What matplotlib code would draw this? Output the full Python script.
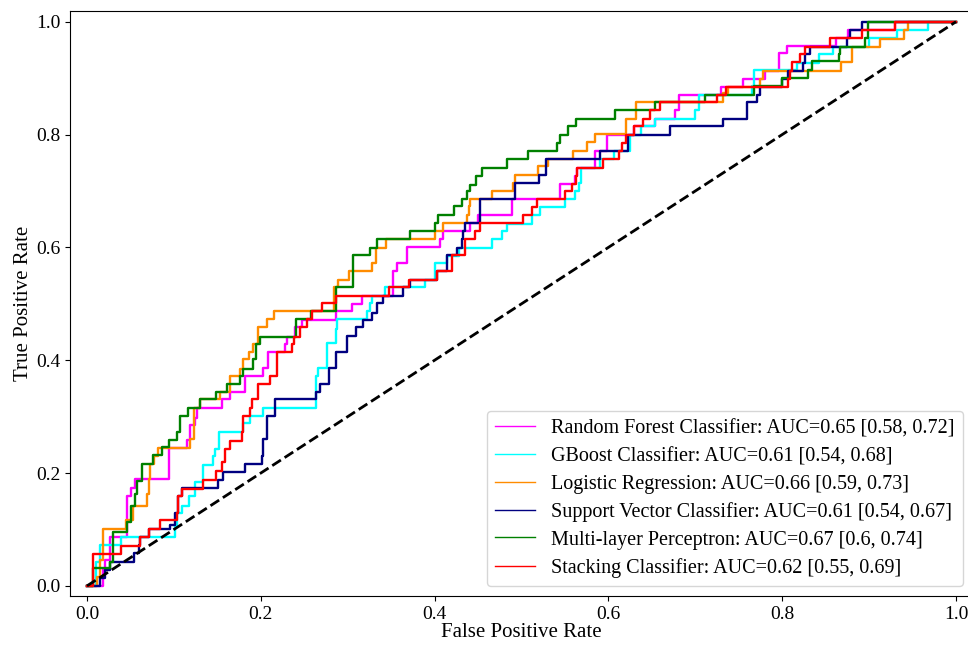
import matplotlib
matplotlib.use('Agg')
import matplotlib.pyplot as plt

# ROC curve vertices (fpr, tpr) for each model, one entry per threshold step
rf_fpr = [0, 0.018, 0.021, 0.027, 0.046, 0.051, 0.055, 0.094, 0.115, 0.119, 0.124, 0.127,
          0.155, 0.164, 0.182, 0.203, 0.208, 0.228, 0.230, 0.239, 0.247, 0.287, 0.305, 0.316,
          0.352, 0.357, 0.368, 0.406, 0.410, 0.441, 0.450, 0.489, 0.544, 0.562, 0.564, 0.584,
          0.598, 0.629, 0.654, 0.677, 0.681, 0.729, 0.755, 0.780, 0.796, 0.805, 0.862, 0.876,
          0.930, 1.0]
rf_tpr = [0, 0.030, 0.045, 0.086, 0.160, 0.173, 0.189, 0.245, 0.259, 0.285, 0.298, 0.316,
          0.331, 0.344, 0.372, 0.387, 0.415, 0.428, 0.442, 0.458, 0.471, 0.487, 0.500, 0.514,
          0.558, 0.573, 0.601, 0.614, 0.629, 0.644, 0.657, 0.686, 0.713, 0.727, 0.741, 0.770,
          0.800, 0.815, 0.828, 0.843, 0.871, 0.884, 0.898, 0.912, 0.945, 0.957, 0.971, 0.986,
          1.0, 1.0]

gb_fpr = [0, 0.010, 0.015, 0.039, 0.101, 0.103, 0.109, 0.117, 0.124, 0.134, 0.145, 0.147,
          0.152, 0.180, 0.188, 0.203, 0.263, 0.266, 0.276, 0.286, 0.288, 0.322, 0.326, 0.328,
          0.343, 0.389, 0.401, 0.414, 0.428, 0.466, 0.477, 0.483, 0.512, 0.521, 0.550, 0.562,
          0.566, 0.568, 0.590, 0.606, 0.625, 0.638, 0.654, 0.700, 0.704, 0.765, 0.767, 0.817,
          0.842, 0.859, 0.900, 0.932, 0.968, 1.0]
gb_tpr = [0, 0.043, 0.072, 0.087, 0.107, 0.129, 0.141, 0.159, 0.185, 0.215, 0.231, 0.243,
          0.272, 0.288, 0.301, 0.316, 0.372, 0.387, 0.431, 0.456, 0.473, 0.487, 0.502, 0.514,
          0.530, 0.543, 0.573, 0.585, 0.599, 0.615, 0.629, 0.641, 0.658, 0.672, 0.685, 0.700,
          0.714, 0.741, 0.756, 0.770, 0.800, 0.815, 0.828, 0.843, 0.871, 0.886, 0.914, 0.927,
          0.942, 0.956, 0.971, 0.986, 1.0, 1.0]

lr_fpr = [0, 0.012, 0.015, 0.018, 0.045, 0.053, 0.069, 0.071, 0.073, 0.077, 0.082, 0.119,
          0.123, 0.130, 0.153, 0.164, 0.176, 0.180, 0.186, 0.191, 0.197, 0.207, 0.215, 0.284,
          0.289, 0.301, 0.328, 0.332, 0.344, 0.401, 0.410, 0.437, 0.439, 0.441, 0.466, 0.490,
          0.493, 0.519, 0.531, 0.559, 0.575, 0.585, 0.620, 0.632, 0.732, 0.738, 0.775, 0.778,
          0.868, 0.880, 0.913, 0.940, 0.945, 1.0]
lr_tpr = [0, 0.015, 0.045, 0.101, 0.116, 0.142, 0.163, 0.189, 0.216, 0.231, 0.245, 0.260,
          0.316, 0.331, 0.344, 0.372, 0.385, 0.402, 0.415, 0.428, 0.458, 0.473, 0.487, 0.530,
          0.543, 0.558, 0.573, 0.599, 0.614, 0.629, 0.644, 0.658, 0.673, 0.685, 0.700, 0.714,
          0.729, 0.744, 0.757, 0.770, 0.786, 0.801, 0.828, 0.857, 0.874, 0.884, 0.898, 0.912,
          0.929, 0.956, 0.970, 0.986, 1.0, 1.0]

svc_fpr = [0, 0.015, 0.021, 0.027, 0.054, 0.060, 0.061, 0.071, 0.096, 0.101, 0.105, 0.109,
           0.151, 0.157, 0.182, 0.201, 0.203, 0.207, 0.216, 0.263, 0.268, 0.278, 0.286, 0.299,
           0.309, 0.318, 0.328, 0.334, 0.341, 0.364, 0.372, 0.403, 0.414, 0.426, 0.431, 0.433,
           0.435, 0.452, 0.493, 0.520, 0.528, 0.590, 0.623, 0.671, 0.732, 0.759, 0.771, 0.775,
           0.800, 0.807, 0.824, 0.826, 0.832, 0.875, 0.878, 0.892, 1.0]
svc_tpr = [0, 0.014, 0.028, 0.043, 0.058, 0.072, 0.086, 0.101, 0.108, 0.129, 0.159, 0.173,
           0.187, 0.201, 0.216, 0.231, 0.260, 0.301, 0.331, 0.344, 0.358, 0.387, 0.415, 0.443,
           0.458, 0.471, 0.484, 0.501, 0.514, 0.529, 0.543, 0.558, 0.586, 0.599, 0.614, 0.629,
           0.644, 0.686, 0.714, 0.729, 0.757, 0.770, 0.800, 0.815, 0.828, 0.857, 0.871, 0.884,
           0.898, 0.912, 0.927, 0.942, 0.956, 0.971, 0.986, 1.0, 1.0]

mlp_fpr = [0, 0.007, 0.026, 0.030, 0.046, 0.051, 0.055, 0.058, 0.063, 0.076, 0.086, 0.094,
           0.103, 0.107, 0.116, 0.130, 0.149, 0.161, 0.176, 0.180, 0.191, 0.195, 0.199, 0.241,
           0.258, 0.287, 0.306, 0.326, 0.334, 0.372, 0.401, 0.404, 0.422, 0.431, 0.437, 0.441,
           0.448, 0.455, 0.483, 0.507, 0.541, 0.544, 0.554, 0.563, 0.608, 0.654, 0.711, 0.767,
           0.800, 0.830, 0.834, 0.865, 0.867, 0.895, 0.899, 1.0]
mlp_tpr = [0, 0.031, 0.043, 0.095, 0.114, 0.142, 0.163, 0.186, 0.216, 0.232, 0.246, 0.259,
           0.272, 0.301, 0.315, 0.331, 0.344, 0.358, 0.372, 0.385, 0.402, 0.428, 0.442, 0.473,
           0.487, 0.529, 0.586, 0.599, 0.614, 0.629, 0.644, 0.658, 0.673, 0.686, 0.700, 0.711,
           0.726, 0.741, 0.757, 0.770, 0.785, 0.800, 0.815, 0.828, 0.843, 0.857, 0.871, 0.886,
           0.900, 0.915, 0.930, 0.942, 0.956, 0.971, 1.0, 1.0]

stk_fpr = [0, 0.0065, 0.039, 0.061, 0.071, 0.084, 0.103, 0.105, 0.109, 0.134, 0.149, 0.155,
           0.159, 0.165, 0.178, 0.180, 0.188, 0.190, 0.197, 0.211, 0.219, 0.236, 0.238, 0.245,
           0.253, 0.259, 0.270, 0.287, 0.347, 0.371, 0.403, 0.420, 0.435, 0.447, 0.452, 0.502,
           0.512, 0.518, 0.550, 0.558, 0.563, 0.564, 0.594, 0.612, 0.616, 0.620, 0.629, 0.640,
           0.648, 0.659, 0.725, 0.735, 0.807, 0.809, 0.811, 0.821, 0.826, 0.855, 0.892, 0.930,
           1.0]
stk_tpr = [0, 0.057, 0.071, 0.086, 0.101, 0.116, 0.129, 0.159, 0.172, 0.187, 0.204, 0.219,
           0.243, 0.257, 0.273, 0.301, 0.316, 0.331, 0.358, 0.372, 0.415, 0.428, 0.442, 0.458,
           0.473, 0.487, 0.501, 0.514, 0.529, 0.543, 0.558, 0.586, 0.614, 0.629, 0.644, 0.657,
           0.672, 0.686, 0.700, 0.713, 0.727, 0.741, 0.757, 0.770, 0.785, 0.800, 0.815, 0.828,
           0.843, 0.857, 0.871, 0.884, 0.898, 0.912, 0.928, 0.943, 0.956, 0.971, 0.986, 1.0,
           1.0]

labels = [
    'Random Forest Classifier: AUC=0.65 [0.58, 0.72]',
    'GBoost Classifier: AUC=0.61 [0.54, 0.68]',
    'Logistic Regression: AUC=0.66 [0.59, 0.73]',
    'Support Vector Classifier: AUC=0.61 [0.54, 0.67]',
    'Multi-layer Perceptron: AUC=0.67 [0.6, 0.74]',
    'Stacking Classifier: AUC=0.62 [0.55, 0.69]',
]
colors = ['magenta', 'cyan', 'darkorange', 'navy', 'green', 'red']
curves = [(rf_fpr, rf_tpr), (gb_fpr, gb_tpr), (lr_fpr, lr_tpr),
          (svc_fpr, svc_tpr), (mlp_fpr, mlp_tpr), (stk_fpr, stk_tpr)]

plt.rcParams['font.family'] = ['Liberation Serif', 'DejaVu Serif']

fig = plt.figure(figsize=(9.68, 6.48), dpi=100)
ax = fig.add_axes([0.0723, 0.0802, 0.9329, 0.9028])

for (fpr, tpr), label, color in zip(curves, labels, colors):
    ax.plot(fpr, tpr, drawstyle='steps-post', color=color, lw=1.7, label=label)

# chance line
ax.plot([0, 1], [0, 1], 'k--', lw=2)

ax.set_xlim(-0.0196, 1.0196)
ax.set_ylim(-0.018, 1.019)
ticks = [0.0, 0.2, 0.4, 0.6, 0.8, 1.0]
ax.set_xticks(ticks)
ax.set_yticks(ticks)
ax.set_xticklabels([f'{t:.1f}' for t in ticks])
ax.set_yticklabels([f'{t:.1f}' for t in ticks])
ax.tick_params(labelsize=14)

ax.set_xlabel('False Positive Rate', fontsize=15, labelpad=0)
ax.set_ylabel('True Positive Rate', fontsize=15, labelpad=2)

leg = ax.legend(loc='lower right', fontsize=14.5, labelspacing=0.42)
for line in leg.get_lines():
    line.set_linewidth(1.0)

fig.savefig('out.png', dpi=100)
